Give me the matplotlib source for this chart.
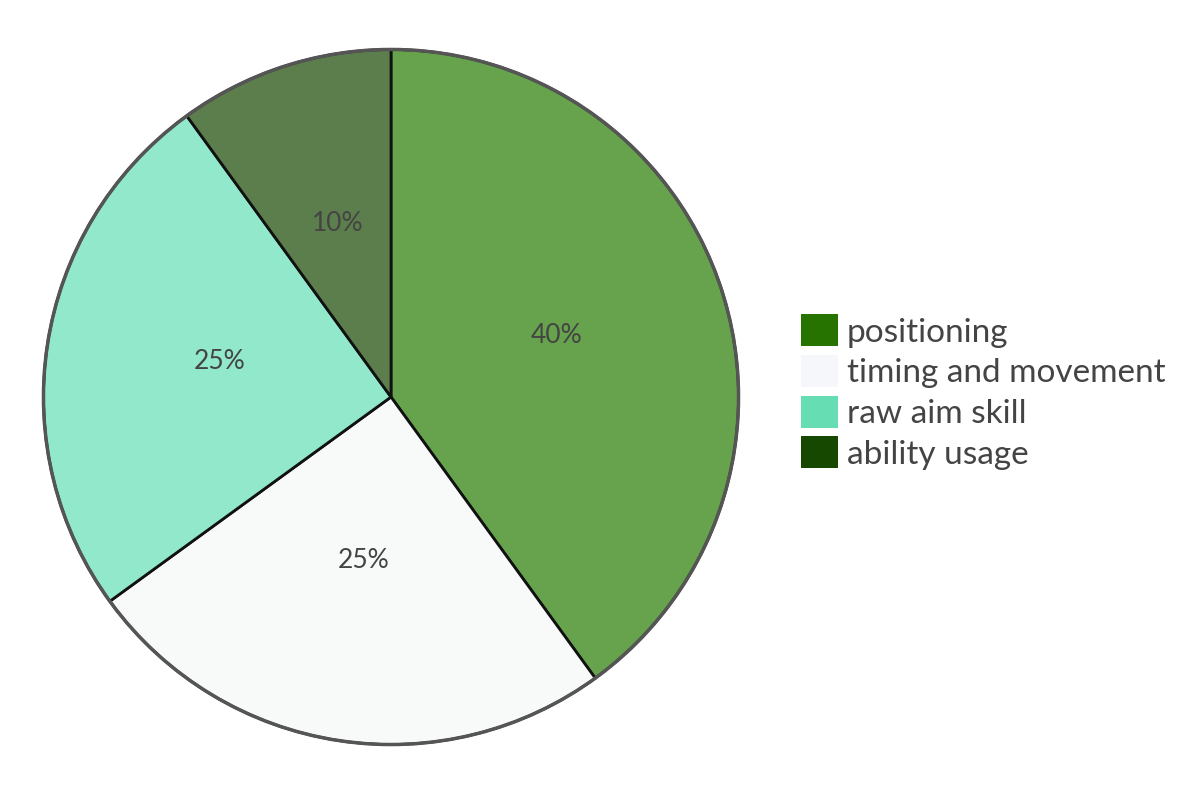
import matplotlib
matplotlib.use("Agg")
import matplotlib.pyplot as plt
from matplotlib.patches import Circle, Patch

labels = ["positioning", "timing and movement", "raw aim skill", "ability usage"]
values = [40, 25, 25, 10]
pie_colors = ["#67a34c", "#f8faf9", "#91e8ca", "#5c7e4c"]
legend_colors = ["#267300", "#f5f7fa", "#66ddb3", "#174800"]

plt.rcParams['font.family'] = ['Lato', 'DejaVu Sans']

fig = plt.figure(figsize=(12, 8), dpi=100)
R = 351
cx, cy = 391, 397
ax = fig.add_axes([(cx - R) / 1200, (800 - cy - R) / 800, 2 * R / 1200, 2 * R / 800])
wedges, texts, autotexts = ax.pie(
    values, colors=pie_colors, startangle=90, counterclock=False,
    autopct='%d%%', pctdistance=0.5,
    wedgeprops=dict(edgecolor="#111111", linewidth=2),
    textprops=dict(color="#444444", fontsize=19, fontweight='normal'),
)
for t in autotexts:
    x, y = t.get_position()
    t.set_position((x, y + 0.023))
ax.add_patch(Circle((0, 0), 1.0, fill=False, edgecolor="#555555", linewidth=2.5, zorder=5))
ax.set_xlim(-1.01, 1.01)
ax.set_ylim(-1.01, 1.01)
ax.set_aspect('equal')
ax.axis('off')

handles = [Patch(facecolor=c, edgecolor='none') for c in legend_colors]
leg = fig.legend(handles, labels, loc='center left', bbox_to_anchor=(0.6535, 0.510),
                 frameon=False, fontsize=24, handlelength=1.1, handleheight=1.1,
                 handletextpad=0.28, labelspacing=0.22, borderpad=0)
for t in leg.get_texts():
    t.set_color("#444444")

fig.savefig("out.png", dpi=100, facecolor="white")
